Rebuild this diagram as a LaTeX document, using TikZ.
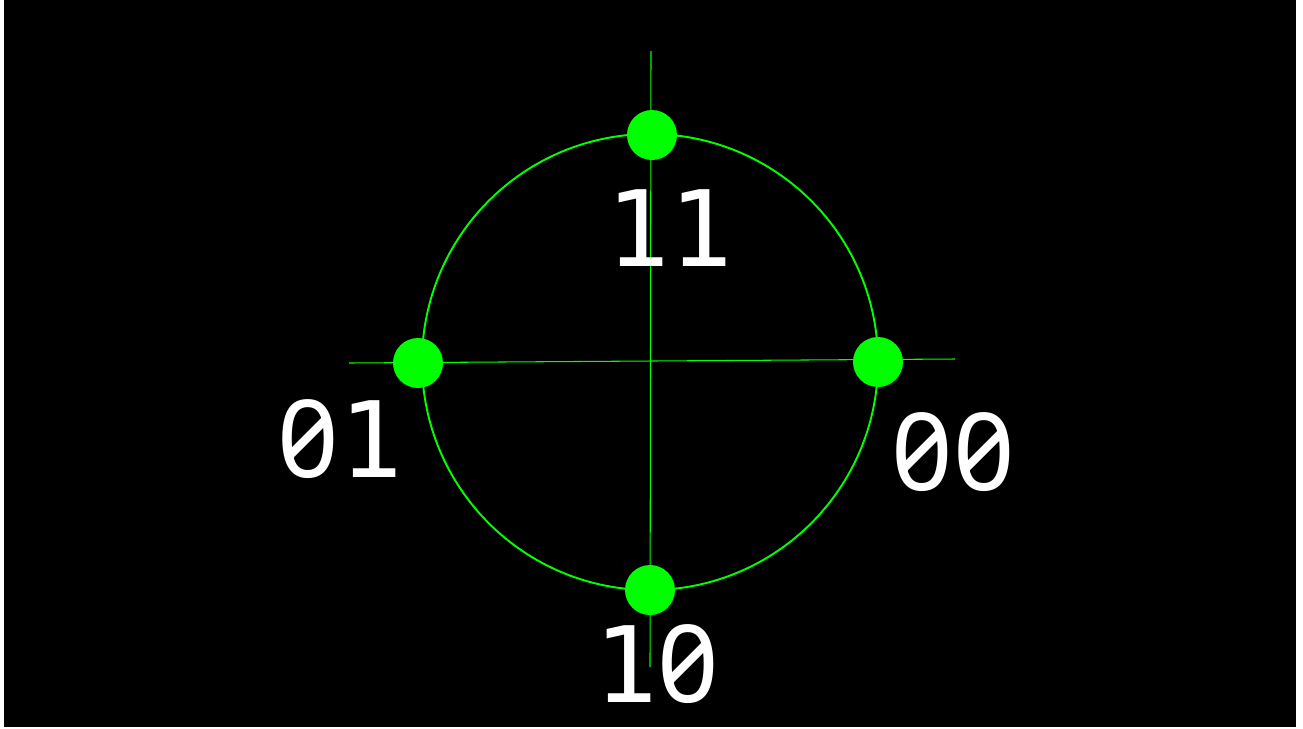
\documentclass[tikz,border=0pt]{standalone}
\usepackage{fontspec}
\usepackage{xcolor}
\usepackage{tikz}
\newfontfamily\monofont{DejaVu Sans Mono}
\newfontfamily\zerofont{Noto Sans}[RawFeature=+zero, Numbers=Monospaced, Scale=1.02]
\newcommand\szero{{\zerofont 0}}
\definecolor{neon}{HTML}{00FF00}

\begin{document}
\begin{tikzpicture}[x=0.02cm, y=-0.02cm,
    dot/.style={circle, fill=neon, inner sep=0pt, minimum size=1cm},
    lbl/.style={text=white, font=\monofont\fontsize{60}{60}\selectfont, inner sep=0pt}]
    % Frame
    \fill[white] (0,0) rectangle (1303,728);
    \fill[black] (4,0) rectangle (1296,727);
    \useasboundingbox (0,0) rectangle (1303,728);

    % Axes
    \coordinate (west) at (349,363);
    \coordinate (east) at (955,359);
    \coordinate (north) at (651,51);
    \coordinate (south) at (650,667);
    \draw[neon, line width=0.6pt] (west) -- (east);
    \draw[neon, line width=0.6pt] (north) -- (south);
    \draw[neon, line width=1.1pt] (650,362) circle[radius=228];

    % Points
    \node[dot] (p11) at (652,135) {};
    \node[dot] (p01) at (418,363) {};
    \node[dot] (p00) at (878,362) {};
    \node[dot] (p10) at (650,590) {};

    % Labels
    \node[lbl] (l11) at (670,228) {11};
    \node[lbl] (l01) at (340,439) {\szero1};
    \node[lbl] (l00) at (953,452) {\szero\szero};
    \node[lbl] (l10) at (657,664) {1\szero};
\end{tikzpicture}
\end{document}
